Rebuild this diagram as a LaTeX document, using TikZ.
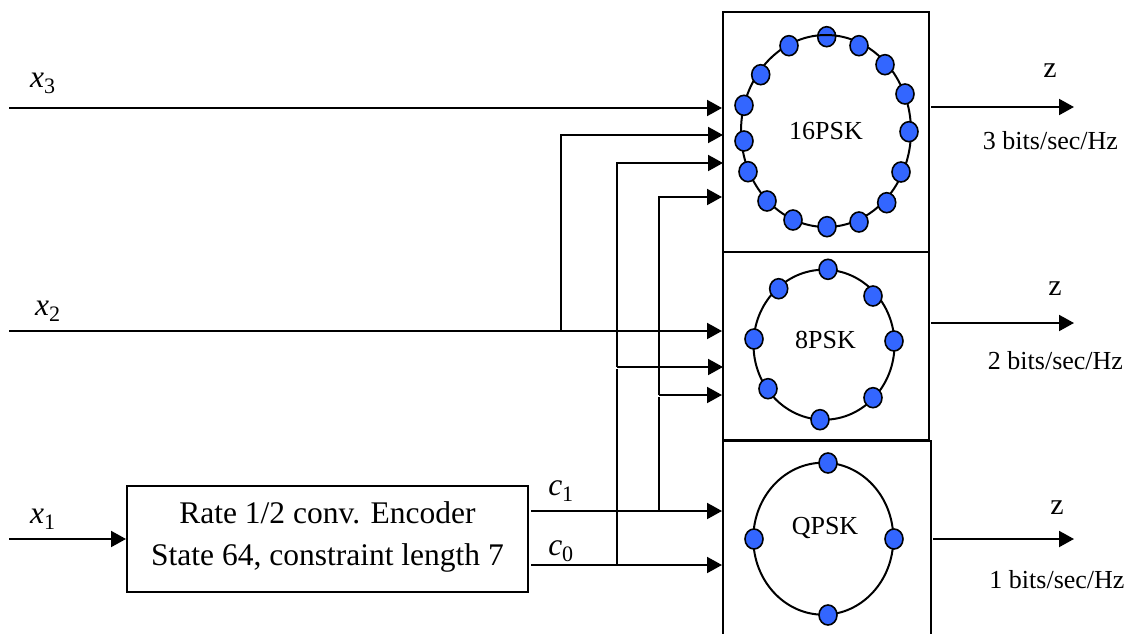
\documentclass[tikz,border=0pt]{standalone}
\usepackage{fontspec}
\setmainfont{Liberation Serif}
\usetikzlibrary{arrows.meta,shapes.geometric}
\newcommand{\bigtxt}{\fontsize{31.5}{42}\selectfont}
\newcommand{\medtxt}{\fontsize{30}{32}\selectfont}
\newcommand{\smalltxt}{\fontsize{26}{30}\selectfont}
\begin{document}
\begin{tikzpicture}[x=1pt,y=-1pt,line width=2pt,
	box/.style={draw,rectangle,inner sep=0pt},
	ring/.style={draw,ellipse,inner sep=0pt},
	dot/.style={draw,ellipse,fill=dotblue,inner sep=0pt,line width=1.6pt,minimum width=18pt,minimum height=20pt},
	sig/.style={-{Triangle[length=15pt,width=16pt]}}]
	\definecolor{dotblue}{RGB}{51,102,255}
	\useasboundingbox (0,0) rectangle (1133,634);
	\fill[white] (0,0) rectangle (1133,634);
	% modulator boxes
	\node[box,minimum width=206pt,minimum height=240pt] (psk16) at (826,132) {};
	\node[box,minimum width=206pt,minimum height=188pt] (psk8) at (826,346) {};
	\node[box,minimum width=208pt,minimum height=240pt,anchor=north] (qpsk) at (827,440) {};
	\node[box,minimum width=401pt,minimum height=106pt] (enc) at (327.5,539) {};
	\node[align=center,font=\bigtxt] (enctxt) at (327.5,537) {Rate 1/2 conv. Encoder\\State 64, constraint length 7};
	% constellations
	\node[dot] (p16a) at (826.7,36.7) {};
	\node[ring,minimum width=170pt,minimum height=192pt,font=\smalltxt] (ring16) at (826,131) {16PSK};
	\foreach \px/\py/\pn in {859/45.7/b,885/64.7/c,905/94/d,909/131.7/e,901/172/f,886.7/202.7/g,859/222/h,827/226.7/i,793/220/j,767/201/k,748/171.7/l,744/141/m,744/105.3/n,760.7/74.7/o,789/45.7/p}
		\node[dot] (p16\pn) at (\px,\py) {};
	\node[ring,minimum width=141pt,minimum height=150pt] (ring8) at (824,344.7) {};
	\node[font=\smalltxt] (name8) at (825.5,340) {8PSK};
	\foreach \px/\py/\pn in {828/269.3/a,873/296/b,894/341/c,873/397.7/d,820/419.7/e,768/388.7/f,754/339/g,778.7/288.7/h}
		\node[dot] (p8\pn) at (\px,\py) {};
	\node[ring,minimum width=140pt,minimum height=152pt] (ring4) at (823.3,538.7) {};
	\node[font=\smalltxt] (name4) at (825,528) {QPSK};
	\foreach \px/\py/\pn in {828/463/a,894/539/b,828/615/c,754/539/d}
		\node[dot] (p4\pn) at (\px,\py) {};
	% free ends of the lines
	\coordinate (x3in) at (9,108);
	\coordinate (x2in) at (9,331);
	\coordinate (x1in) at (9,539);
	\coordinate (t16a) at (722,108);
	\coordinate (t16b) at (723,135);
	\coordinate (t16c) at (723,163);
	\coordinate (t16d) at (722,197);
	\coordinate (t8a) at (722,331);
	\coordinate (t8b) at (723,367);
	\coordinate (t8c) at (722,395);
	\coordinate (t4a) at (722,511);
	\coordinate (t4b) at (722,565);
	\coordinate (c1out) at (531,511);
	\coordinate (c0out) at (531,565);
	\coordinate (j2) at (561,331);
	\coordinate (j2up) at (561,135);
	\coordinate (j0) at (617,565);
	\coordinate (j0up) at (617,369);
	\coordinate (k0a) at (617,367);
	\coordinate (k0b) at (617,163);
	\coordinate (j1) at (659,511);
	\coordinate (j1up) at (659,397);
	\coordinate (k1a) at (659,395);
	\coordinate (k1b) at (659,197);
	\coordinate (z16a) at (931,107);
	\coordinate (z16b) at (1074,107);
	\coordinate (z8a) at (931,323);
	\coordinate (z8b) at (1074,323);
	\coordinate (z4a) at (933,539);
	\coordinate (z4b) at (1074,539);
	% inputs and outputs
	\path[sig]
	(x3in) edge (t16a)
	(x2in) edge (t8a)
	(x1in) edge (enc.west)
	(c1out) edge (t4a)
	(c0out) edge (t4b)
	(z16a) edge (z16b)
	(z8a) edge (z8b)
	(z4a) edge (z4b);
	\draw[sig] (j2) -- (j2up) -- (t16b);
	\draw[sig] (k0a) -- (k0b) -- (t16c);
	\draw[sig] (k1a) -- (k1b) -- (t16d);
	\draw[sig] (k0a) -- (t8b);
	\draw[sig] (k1a) -- (t8c);
	\draw (j0) -- (j0up);
	\draw (j1) -- (j1up);
	% labels
	\node[font=\bigtxt] (lx3) at (43,83) {\textit{x}\textsubscript{3}};
	\node[font=\bigtxt] (lx2) at (48,311) {\textit{x}\textsubscript{2}};
	\node[font=\bigtxt] (lx1) at (43,519) {\textit{x}\textsubscript{1}};
	\node[font=\bigtxt] (lc1) at (561,491) {\textit{c}\textsubscript{1}};
	\node[font=\bigtxt] (lc0) at (561,551) {\textit{c}\textsubscript{0}};
	\node[font=\medtxt] (lz16) at (1050,71) {z};
	\node[font=\medtxt] (lz8) at (1055,289) {z};
	\node[font=\medtxt] (lz4) at (1057,508) {z};
	\node[font=\smalltxt] (r16) at (1050.5,141) {3 bits/sec/Hz};
	\node[font=\smalltxt] (r8) at (1055.5,361) {2 bits/sec/Hz};
	\node[font=\smalltxt] (r4) at (1057,580) {1 bits/sec/Hz};
\end{tikzpicture}
\end{document}
